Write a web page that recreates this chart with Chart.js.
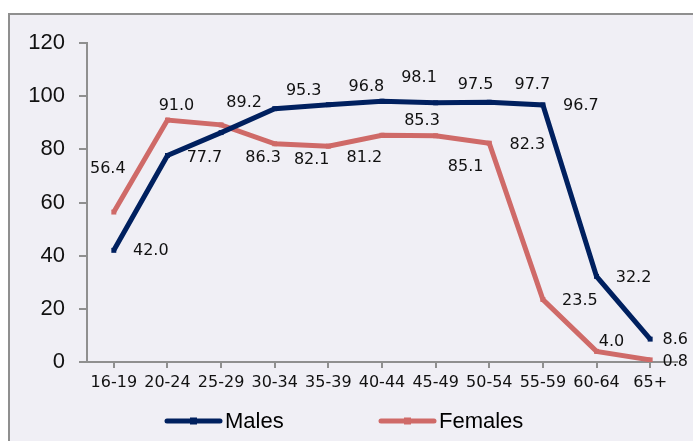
<!DOCTYPE html>
<html>
<head>
<meta charset="utf-8">
<script src="https://cdn.jsdelivr.net/npm/chart.js@4.4.1/dist/chart.umd.min.js"></script>
<style>
  html, body { margin: 0; padding: 0; background: #ffffff; }
  #wrap { position: relative; width: 693px; height: 441px; overflow: hidden; }
  #frame { position: absolute; left: 8px; top: 13px; width: 700px; height: 450px;
           background: #f0eff5; border-top: 2px solid #8f8f8f; border-left: 2px solid #8f8f8f; }
  #chart { position: absolute; left: 0; top: 0; }
</style>
</head>
<body>
<div id="wrap">
  <div id="frame"></div>
  <canvas id="chart" width="693" height="441"></canvas>
</div>
<script>
document.addEventListener('DOMContentLoaded', function() {
    // Age groups and participation rates (%)
    const ageGroups = ['16-19', '20-24', '25-29', '30-34', '35-39', '40-44', '45-49', '50-54', '55-59', '60-64', '65+'];
    const males = [42.0, 77.7, 86.3, 95.3, 96.8, 98.1, 97.5, 97.7, 96.7, 32.2, 8.6];
    const females = [56.4, 91.0, 89.2, 82.1, 81.2, 85.3, 85.1, 82.3, 23.5, 4.0, 0.8];
    const yTicks = [0, 20, 40, 60, 80, 100, 120];

    // where each value label sits relative to its point (like the original sheet)
    const maleLabelShift = [[37, 0], [37, 2], [42, 25], [29, -18], [38, -18], [37, -23], [40, -18], [43, -17], [38, 1], [37, 1], [25, 1]];
    const femaleLabelShift = [[-6, -43], [9, -14], [23, -22], [37, 16], [36, 12], [40, -14], [30, 31], [38, 2], [37, 1], [15, -10], [25, 2]];

    const navy = '#00205f';
    const rose = '#cf6a68';

    // value labels next to the points
    const valueLabels = {
        id: 'valueLabels',
        afterDatasetsDraw(chart) {
            const ctx = chart.ctx;
            ctx.save();
            ctx.font = '16px "DejaVu Sans", Verdana, sans-serif';
            ctx.fillStyle = '#111111';
            ctx.textAlign = 'center';
            ctx.textBaseline = 'middle';
            chart.data.datasets.forEach(function(ds, i) {
                const shifts = i === 0 ? maleLabelShift : femaleLabelShift;
                chart.getDatasetMeta(i).data.forEach(function(pt, j) {
                    ctx.fillText(ds.data[j].toFixed(1), pt.x + shifts[j][0], pt.y + shifts[j][1]);
                });
            });
            ctx.restore();
        }
    };

    // legend at the bottom: thick line with a small square, then the name
    const bottomLegend = {
        id: 'bottomLegend',
        afterDraw(chart) {
            const ctx = chart.ctx;
            const y = 421;
            const starts = [165, 379];
            ctx.save();
            ctx.font = '22px "Liberation Sans", Arial, sans-serif';
            ctx.textBaseline = 'middle';
            chart.data.datasets.forEach(function(ds, i) {
                const x = starts[i];
                ctx.strokeStyle = ds.borderColor;
                ctx.lineWidth = 5;
                ctx.lineCap = 'round';
                ctx.beginPath();
                ctx.moveTo(x + 2, y);
                ctx.lineTo(x + 55, y);
                ctx.stroke();
                ctx.fillStyle = ds.borderColor;
                ctx.fillRect(x + 25, y - 3.5, 7, 7);
                ctx.fillStyle = '#000000';
                ctx.fillText(ds.label, x + 60, y + 1);
            });
            ctx.restore();
        }
    };

    const ctx1 = document.getElementById('chart').getContext('2d');
    new Chart(ctx1, {
        type: 'line',
        data: {
            labels: ageGroups,
            datasets: [{
                label: 'Males',
                data: males,
                borderColor: navy,
                backgroundColor: navy,
                borderWidth: 5,
                pointStyle: 'rect',
                pointRadius: 3.5,
                pointBorderWidth: 0,
                tension: 0
            }, {
                label: 'Females',
                data: females,
                borderColor: rose,
                backgroundColor: rose,
                borderWidth: 5,
                pointStyle: 'rect',
                pointRadius: 3.5,
                pointBorderWidth: 0,
                tension: 0
            }]
        },
        options: {
            responsive: false,
            animation: false,
            layout: { padding: { top: 43, right: 16, bottom: 40, left: 0 } },
            plugins: {
                legend: { display: false },
                tooltip: { enabled: false }
            },
            scales: {
                x: {
                    offset: true,
                    grid: { drawOnChartArea: false, tickLength: 6, color: '#8f8f8f', lineWidth: 2 },
                    border: { color: '#8f8f8f', width: 2 },
                    ticks: {
                        color: '#111111',
                        padding: 5,
                        maxRotation: 0,
                        autoSkip: false,
                        font: { family: '"DejaVu Sans", Verdana, sans-serif', size: 16 }
                    },
                    afterFit(scale) { scale.height = 441 - 362 - 40; }
                },
                y: {
                    min: 0,
                    max: 120,
                    afterBuildTicks(scale) { scale.ticks = yTicks.map(function(v) { return { value: v }; }); },
                    grid: { drawOnChartArea: false, tickLength: 8, color: '#8f8f8f', lineWidth: 2 },
                    border: { color: '#8f8f8f', width: 2 },
                    ticks: {
                        color: '#111111',
                        padding: 14,
                        font: { family: '"Liberation Sans", Arial, sans-serif', size: 22 }
                    },
                    afterFit(scale) { scale.width = 87; }
                }
            }
        },
        plugins: [valueLabels, bottomLegend]
    });
});
</script>
</body>
</html>
